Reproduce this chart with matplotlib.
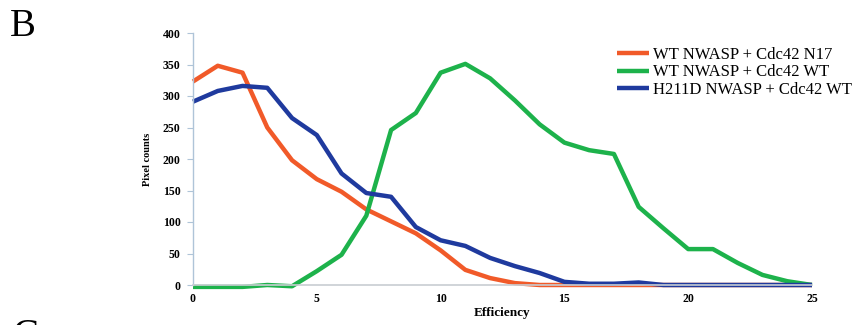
import matplotlib
matplotlib.use("Agg")
import matplotlib.pyplot as plt

plt.rcParams['font.family'] = ['Liberation Serif', 'DejaVu Serif']

# efficiency bins 0..25
efficiency = list(range(26))

# pixel counts
wt_n17 = [323, 348, 337, 250, 198, 168, 148, 120, 101, 82, 55, 24, 11, 3, 0,
          0, 0, 0, 0, 0, 0, 0, 0, 0, 0, 0]
wt_wt = [-3, -3, -3, 0, -2, 22, 48, 110, 246, 273, 337, 351, 328, 293, 255,
         226, 214, 208, 124, 90, 57, 57, 35, 16, 6, 0]
h211d_wt = [291, 308, 316, 313, 265, 238, 177, 146, 140, 92, 71, 62, 43, 30, 19,
            5, 2, 2, 4, 0, 0, 0, 0, 0, 0, 0]

labels = ['WT NWASP + Cdc42 N17', 'WT NWASP + Cdc42 WT', 'H211D NWASP + Cdc42 WT']
colors = ['#F15A29', '#1DB24B', '#1F3A9E']

fig = plt.figure(figsize=(8.67, 3.25), dpi=100)
ax = fig.add_axes([193/867, 40/325, 619/867, 252/325])

for y, lab, c in zip([wt_n17, wt_wt, h211d_wt], labels, colors):
    ax.plot(efficiency, y, color=c, lw=3.2, label=lab, clip_on=False, solid_capstyle='butt')

ax.set_xlim(0, 25)
ax.set_ylim(0, 400)
ax.set_xticks([0, 5, 10, 15, 20, 25])
ax.set_yticks(range(0, 401, 50))
ax.tick_params(axis='y', length=4, color='#AFC4D8', labelsize=8.5, pad=5)
ax.tick_params(axis='x', length=0, labelsize=8.5, pad=6)
for t in ax.get_xticklabels() + ax.get_yticklabels():
    t.set_fontweight('bold')

for s in ['top', 'right']:
    ax.spines[s].set_visible(False)
ax.spines['left'].set_color('#AFC4D8')
ax.spines['bottom'].set_color('#C8CDD2')
ax.spines['left'].set_linewidth(1)
ax.spines['bottom'].set_linewidth(1.2)

ax.set_xlabel('Efficiency', fontsize=9.5, fontweight='bold', labelpad=1)
ax.set_ylabel('Pixel counts', fontsize=7.5, fontweight='bold', labelpad=8)

fig.legend(loc='upper left', bbox_to_anchor=(617/867, 1 - 47/325), frameon=False,
           fontsize=12, handlelength=1.9, handletextpad=0.25, labelspacing=0.08,
           borderpad=0, borderaxespad=0)

fig.text(10/867, 1 - 8/325, 'B', fontsize=28, va='top', ha='left')
fig.text(12/867, 1 - 318/325, 'C', fontsize=28, va='top', ha='left')

fig.savefig('out.png', dpi=100)
